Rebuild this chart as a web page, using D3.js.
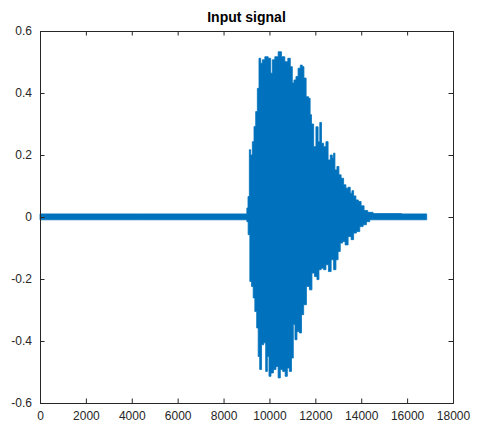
<!DOCTYPE html>
<html>
<head>
<meta charset="utf-8">
<script src="https://cdn.jsdelivr.net/npm/d3@7"></script>
<style>
  body { margin: 0; background: #fff; }
  svg { display: block; font-family: "Liberation Sans", Arial, sans-serif; }
</style>
</head>
<body>
<svg id="chart" width="477" height="430"></svg>
<script>
// envelope of the signal: [sample, value]
const upperEnv = [
  [0, 0.010], [9002, 0.010], [9028, 0.029], [9102, 0.066], [9146, 0.217], [9220, 0.200],
  [9290, 0.243], [9364, 0.292], [9438, 0.340], [9508, 0.415], [9581, 0.512], [9655, 0.496],
  [9725, 0.507], [9873, 0.517], [10017, 0.512], [10091, 0.464], [10160, 0.507], [10308, 0.517],
  [10452, 0.533], [10596, 0.517], [10744, 0.501], [10857, 0.512], [10962, 0.485], [11031, 0.432],
  [11105, 0.442], [11205, 0.453], [11292, 0.480], [11397, 0.490], [11466, 0.485], [11540, 0.448],
  [11658, 0.388], [11758, 0.383], [11789, 0.330], [11876, 0.300], [11976, 0.227], [12077, 0.291],
  [12164, 0.243], [12225, 0.305], [12312, 0.238], [12412, 0.227], [12512, 0.243], [12599, 0.184],
  [12704, 0.200], [12774, 0.190], [12817, 0.206], [12891, 0.152], [12991, 0.163], [13065, 0.136],
  [13182, 0.125], [13282, 0.104], [13383, 0.093], [13470, 0.096], [13574, 0.077], [13618, 0.085],
  [13718, 0.068], [13818, 0.055], [13936, 0.050], [14053, 0.036], [14197, 0.021], [14371, 0.015],
  [14663, 0.011], [16853, 0.010]
];
const lowerEnv = [
  [0, -0.009], [9002, -0.009], [9028, -0.015], [9115, -0.057], [9176, -0.208], [9263, -0.224],
  [9320, -0.261], [9407, -0.305], [9481, -0.358], [9538, -0.450], [9612, -0.492], [9699, -0.412],
  [9799, -0.406], [9873, -0.498], [9943, -0.450], [10017, -0.514], [10117, -0.503], [10235, -0.492],
  [10335, -0.482], [10422, -0.519], [10527, -0.492], [10626, -0.498], [10744, -0.514], [10814, -0.487],
  [10918, -0.498], [11005, -0.455], [11075, -0.347], [11149, -0.396], [11249, -0.369], [11354, -0.374],
  [11441, -0.315], [11540, -0.283], [11684, -0.224], [11802, -0.235], [11902, -0.181], [12020, -0.192],
  [12120, -0.202], [12194, -0.170], [12312, -0.165], [12412, -0.170], [12512, -0.154], [12630, -0.176],
  [12748, -0.138], [12847, -0.170], [12948, -0.138], [13035, -0.111], [13139, -0.084], [13239, -0.079],
  [13357, -0.090], [13500, -0.063], [13618, -0.073], [13718, -0.052], [13862, -0.047], [14010, -0.031],
  [14154, -0.025], [14297, -0.015], [14445, -0.009], [16853, -0.009]
];
const xTicks = [0, 2000, 4000, 6000, 8000, 10000, 12000, 14000, 16000, 18000];
const yTicks = [-0.6, -0.4, -0.2, 0, 0.2, 0.4, 0.6];

const svg = d3.select("#chart");
const plotL = 40, plotR = 453, plotT = 31, plotB = 403;
const axisColor = "#262626";

const x = d3.scaleLinear().domain([0, 18000]).range([plotL, plotR]);
const y = d3.scaleLinear().domain([-0.6, 0.6]).range([plotB, plotT]);

// signal drawn as a filled band between the two envelopes (stepped, like dense samples)
const envLine = d3.line().curve(d3.curveStep).x(d => x(d[0])).y(d => y(d[1]));
svg.append("path")
  .attr("d", envLine(upperEnv) + "L" + envLine(lowerEnv.slice().reverse()).slice(1) + "Z")
  .attr("fill", "#0072BD")
  .attr("stroke", "#0072BD")
  .attr("stroke-width", 0.8);

// axes (ticks inward, box)
const tickLen = 4.5;
const fmtY = d => d === 0 ? "0" : d3.format(".1f")(d).replace("\u2212", "-");
const bottomAxis = d3.axisBottom(x).tickValues(xTicks).tickSize(-tickLen).tickPadding(8).tickFormat(d3.format("d"));
const topAxis = d3.axisTop(x).tickValues(xTicks).tickSize(-tickLen).tickFormat("");
const leftAxis = d3.axisLeft(y).tickValues(yTicks).tickSize(-tickLen).tickPadding(8).tickFormat(fmtY);
const rightAxis = d3.axisRight(y).tickValues(yTicks).tickSize(-tickLen).tickFormat("");

const style = g => {
  g.select(".domain").attr("stroke", axisColor).attr("stroke-width", 1);
  g.selectAll(".tick line").attr("stroke", axisColor);
  g.selectAll(".tick text").attr("fill", axisColor).style("font-size", "12px").style("font-family", "Liberation Sans, Arial, sans-serif");
};

svg.append("g").attr("transform", `translate(0,${plotB})`).call(bottomAxis).call(style);
svg.append("g").attr("transform", `translate(0,${plotT})`).call(topAxis).call(style);
svg.append("g").attr("transform", `translate(${plotL},0)`).call(leftAxis).call(style);
svg.append("g").attr("transform", `translate(${plotR},0)`).call(rightAxis).call(style);

// title
svg.append("text")
  .attr("x", (plotL + plotR) / 2)
  .attr("y", 22)
  .attr("text-anchor", "middle")
  .style("font-size", "14px")
  .style("font-weight", "bold")
  .attr("fill", "#000")
  .text("Input signal");
</script>
</body>
</html>
